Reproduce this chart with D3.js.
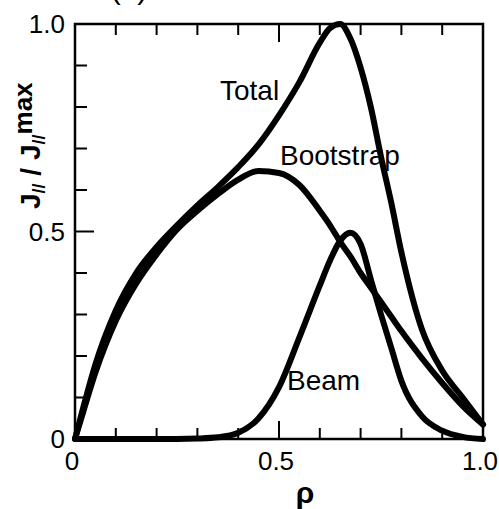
<!DOCTYPE html>
<html><head><meta charset="utf-8">
<script src="https://cdn.jsdelivr.net/npm/d3@7"></script>
<style>
html,body{margin:0;padding:0;background:#fff;}
svg text{font-family:"Liberation Sans",Arial,Helvetica,sans-serif;fill:#000;}
</style></head>
<body>
<svg id="chart" width="499" height="509"></svg>
<script>
const rho = [0,0.02,0.05,0.1,0.15,0.2,0.25,0.3,0.35,0.4,0.45,0.5,0.55,0.6,0.625,0.65,0.675,0.7,0.725,0.75,0.775,0.8,0.85,0.9,0.95,1.0];
const total = [0,0.075,0.18,0.31,0.40,0.463,0.515,0.563,0.607,0.655,0.71,0.78,0.86,0.955,0.99,1.0,0.965,0.895,0.80,0.68,0.57,0.45,0.265,0.165,0.10,0.035];
const bootstrap = [0,0.065,0.16,0.285,0.375,0.445,0.505,0.55,0.59,0.625,0.646,0.641,0.612,0.55,0.515,0.475,0.44,0.40,0.365,0.33,0.295,0.26,0.195,0.135,0.08,0.035];
const beam = [0,0,0,0,0,0,0,0.001,0.004,0.015,0.05,0.125,0.245,0.37,0.43,0.478,0.497,0.47,0.385,0.30,0.22,0.14,0.055,0.02,0.005,0];
const xTicks = [0,0.1,0.2,0.3,0.4,0.5,0.6,0.7,0.8,0.9,1.0];
const yTicks = [0,0.1,0.2,0.3,0.4,0.5,0.6,0.7,0.8,0.9,1.0];
const xTickLabels = ["0","0.5","1.0"];
const yTickLabels = ["0","0.5","1.0"];
const seriesNames = ["Total","Bootstrap","Beam"];

const svg = d3.select("#chart");
const L=75, R=483, T=24, B=439;
const x = d3.scaleLinear().domain([0,1]).range([L,R]);
const y = d3.scaleLinear().domain([0,1]).range([B,T]);
const isMajor = v => Math.abs(v-0.5)<1e-9;

// ticks (inward) on bottom, top, left
const g = svg.append("g");
xTicks.filter(v=>v>0&&v<1).forEach(v=>{
  const len = isMajor(v)?18:11;
  g.append("line").attr("x1",x(v)).attr("x2",x(v)).attr("y1",B).attr("y2",B-len).attr("stroke","#000").attr("stroke-width",2);
  g.append("line").attr("x1",x(v)).attr("x2",x(v)).attr("y1",T).attr("y2",T+len).attr("stroke","#000").attr("stroke-width",2);
});
yTicks.filter(v=>v>0&&v<1).forEach(v=>{
  const len = isMajor(v)?19:12;
  g.append("line").attr("x1",L).attr("x2",L+len).attr("y1",y(v)).attr("y2",y(v)).attr("stroke","#000").attr("stroke-width",2);
});
// frame
svg.append("rect").attr("x",L).attr("y",T).attr("width",R-L).attr("height",B-T)
  .attr("fill","none").attr("stroke","#000").attr("stroke-width",2.5);

// tick labels
[0,0.5,1.0].forEach((v,i)=>{
  svg.append("text").attr("x",x(v)-3).attr("y",470).attr("text-anchor","middle")
    .attr("font-size",26).text(xTickLabels[i]);
  svg.append("text").attr("x",65).attr("y",y(v)+9).attr("text-anchor","end")
    .attr("font-size",26).text(yTickLabels[i]);
});

// curves
const line = d3.line().x(d=>x(d[0])).y(d=>y(d[1])).curve(d3.curveMonotoneX);
[total,bootstrap,beam].forEach(s=>{
  svg.append("path").datum(rho.map((r,i)=>[r,s[i]])).attr("d",line)
    .attr("fill","none").attr("stroke","#000").attr("stroke-width",6)
    .attr("stroke-linejoin","round").attr("stroke-linecap","round");
});

// series labels
svg.append("text").attr("x",220).attr("y",100).attr("font-size",28).text(seriesNames[0]);
svg.append("text").attr("x",280).attr("y",165).attr("font-size",28).text(seriesNames[1]);
svg.append("text").attr("x",287).attr("y",390).attr("font-size",28).text(seriesNames[2]);

// axis titles
svg.append("text").attr("x",305).attr("y",503).attr("text-anchor","middle")
  .attr("font-size",30).attr("font-weight","bold").text("ρ");
const yl = svg.append("text").attr("transform","translate(40,209) rotate(-90)")
  .attr("font-size",28).attr("font-weight","bold");
yl.append("tspan").text("J");
yl.append("tspan").attr("font-size",18).attr("dy",5).text("//");
yl.append("tspan").attr("dy",-5).text(" / J");
yl.append("tspan").attr("font-size",18).attr("dy",5).text("//");
yl.append("tspan").attr("font-size",26).attr("dy",-13).text("max");

// panel label (cut off at the top, as in the reference)
svg.append("text").attr("x",129).attr("y",-1).attr("text-anchor","middle")
  .attr("font-size",30).text("(b)");
</script>
</body></html>
